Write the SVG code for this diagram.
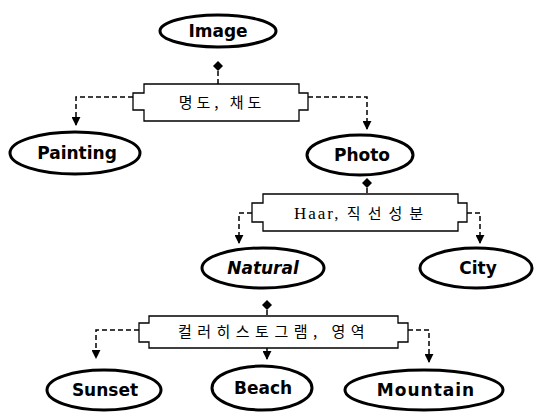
<svg xmlns="http://www.w3.org/2000/svg" width="537" height="412" viewBox="0 0 537 412">
<style>
.node ellipse{fill:#fff;stroke:#000;stroke-width:3}
.node text{font-family:"DejaVu Sans",Verdana,sans-serif;font-weight:bold;font-size:17px;text-anchor:middle;fill:#000}
.box path{fill:#fff;stroke:#000;stroke-width:1.3}
.box text{font-family:"Liberation Serif","Noto Sans CJK KR",serif;font-size:17px;text-anchor:middle;fill:#000}
.box .ko{font-family:"Noto Sans CJK KR",sans-serif;font-size:15px;letter-spacing:4px}
.conn path{fill:none;stroke:#000;stroke-width:1.5;stroke-dasharray:5 3}
.conn .dia{fill:#000;stroke:none;stroke-dasharray:none}
</style>
<defs>
<marker id="ah" viewBox="0 0 10 10" refX="9" refY="5" markerWidth="9" markerHeight="9" markerUnits="userSpaceOnUse" orient="auto">
<path d="M0,0 L10,5 L0,10 z" fill="#000"/>
</marker>
</defs>
<g id="connectors" class="conn">
<path d="M218,71 V84"/>
<path d="M133,97 H76 V125" marker-end="url(#ah)"/>
<path d="M308,97 H367 V129" marker-end="url(#ah)"/>
<path d="M367,188 V194"/>
<path d="M252,213 H239 V243" marker-end="url(#ah)"/>
<path d="M467,213 H480 V243" marker-end="url(#ah)"/>
<path d="M267,310 V316"/>
<path d="M139,330 H96 V358" marker-end="url(#ah)"/>
<path d="M267,348 V359" marker-end="url(#ah)" style="stroke-dasharray:none"/>
<path d="M408,330 H429 V362" marker-end="url(#ah)"/>
<path class="dia" d="M218,61 L223,66 L218,71 L213,66 z"/>
<path class="dia" d="M367,178 L372,183 L367,188 L362,183 z"/>
<path class="dia" d="M267,300 L272,305 L267,310 L262,305 z"/>
</g>
<g id="box1" class="box">
<path d="M144,84 H299 V93 H308 V110 H299 V121 H144 V110 H133 V93 H144 z"/>
<text class="ko" x="222" y="108">명도, 채도</text>
</g>
<g id="box2" class="box">
<path d="M263,194 H458 V203 H467 V222 H458 V231 H263 V222 H252 V203 H263 z"/>
<text x="362" y="219" style="letter-spacing:2px">Haar, <tspan class="ko" style="letter-spacing:7px">직선성분</tspan></text>
</g>
<g id="box3" class="box">
<path d="M149,316 H398 V323 H408 V342 H398 V348 H149 V342 H139 V323 H149 z"/>
<text class="ko" x="274" y="337" style="letter-spacing:5.5px">컬러히스토그램, 영역</text>
</g>
<g id="image" class="node"><ellipse cx="218" cy="31" rx="58" ry="16"/><text x="218" y="37">Image</text></g>
<g id="painting" class="node"><ellipse cx="75" cy="153" rx="65" ry="21"/><text x="77" y="159">Painting</text></g>
<g id="photo" class="node"><ellipse cx="360" cy="155" rx="53" ry="20"/><text x="362" y="161">Photo</text></g>
<g id="natural" class="node"><ellipse cx="263" cy="268" rx="61" ry="20"/><text x="263" y="274" font-style="italic">Natural</text></g>
<g id="city" class="node"><ellipse cx="476" cy="268" rx="56" ry="20"/><text x="478" y="274">City</text></g>
<g id="sunset" class="node"><ellipse cx="104" cy="390" rx="57" ry="20"/><text x="105" y="396">Sunset</text></g>
<g id="beach" class="node"><ellipse cx="262" cy="388" rx="50" ry="22"/><text x="263" y="394">Beach</text></g>
<g id="mountain" class="node"><ellipse cx="424" cy="390" rx="79" ry="20"/><text x="426" y="396" style="letter-spacing:1px">Mountain</text></g>
</svg>
